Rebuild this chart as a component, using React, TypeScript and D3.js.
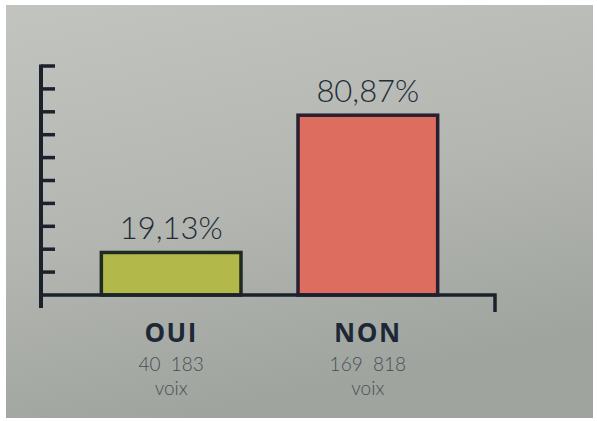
import React, { useEffect, useRef } from 'react'
import * as d3 from 'd3'

const categories = ['OUI', 'NON']
const percents = [19.13, 80.87]
const percentLabels = ['19,13%', '80,87%']
const voteLabels = ['40  183', '169  818']
const unitLabel = 'voix'
const barColors = ['#b3b84a', '#dd6d5f']
const axisMax = 103
const tickCount = 10

export default function App() {
  const ref = useRef<SVGSVGElement | null>(null)

  useEffect(() => {
    if (!ref.current) return
    const svg = d3.select(ref.current)
    svg.selectAll('*').remove()
    const width = 597
    const height = 421

    // photo-like grey background with white border
    const defs = svg.append('defs')
    const grad = defs
      .append('linearGradient')
      .attr('id', 'bg')
      .attr('x1', 0)
      .attr('y1', 0)
      .attr('x2', 0.3)
      .attr('y2', 1)
    grad.append('stop').attr('offset', '0%').attr('stop-color', '#c2c4bf')
    grad.append('stop').attr('offset', '55%').attr('stop-color', '#b3b6b1')
    grad.append('stop').attr('offset', '100%').attr('stop-color', '#a0a49f')

    svg.append('rect').attr('width', width).attr('height', height).attr('fill', '#ffffff')
    svg
      .append('rect')
      .attr('x', 6)
      .attr('y', 5)
      .attr('width', width - 10)
      .attr('height', height - 8)
      .attr('fill', 'url(#bg)')

    const x = d3.scaleBand<string>().domain(categories).range([62, 477]).paddingInner(0.29).paddingOuter(0.2)
    const y = d3.scaleLinear().domain([0, axisMax]).range([295, 66])

    const axisX = 41
    const ink = '#1b222c'

    // bars
    svg
      .selectAll('rect.bar')
      .data(categories)
      .join('rect')
      .attr('class', 'bar')
      .attr('x', (d) => x(d)!)
      .attr('y', (_, i) => y(percents[i]))
      .attr('width', x.bandwidth())
      .attr('height', (_, i) => y(0) - y(percents[i]))
      .attr('fill', (_, i) => barColors[i])
      .attr('stroke', (_, i) => (i === 0 ? '#1f2a22' : '#2a1f30'))
      .attr('stroke-width', 3.5)

    // y axis with unlabelled ticks
    const tickVals = d3.range(1, tickCount + 1).map((i) => (axisMax * i) / tickCount)
    svg
      .selectAll('line.tick')
      .data(tickVals)
      .join('line')
      .attr('class', 'tick')
      .attr('x1', axisX)
      .attr('x2', axisX + 14)
      .attr('y1', (d) => y(d))
      .attr('y2', (d) => y(d))
      .attr('stroke', ink)
      .attr('stroke-width', 3.5)

    svg
      .append('line')
      .attr('x1', axisX)
      .attr('x2', axisX)
      .attr('y1', y(axisMax) - 1.5)
      .attr('y2', y(0) + 13)
      .attr('stroke', ink)
      .attr('stroke-width', 4)

    // baseline with end tick
    svg
      .append('path')
      .attr('d', `M${axisX},${y(0)}H495V312`)
      .attr('fill', 'none')
      .attr('stroke', ink)
      .attr('stroke-width', 3.5)

    // value labels
    svg
      .selectAll('text.pct')
      .data(categories)
      .join('text')
      .attr('class', 'pct')
      .attr('x', (d) => x(d)! + x.bandwidth() / 2)
      .attr('y', (_, i) => y(percents[i]) - 13)
      .attr('text-anchor', 'middle')
      .attr('fill', '#232b36')
      .style('font-family', 'Lato, "Open Sans", sans-serif')
      .style('font-weight', 300)
      .style('font-size', '31px')
      .text((_, i) => percentLabels[i])

    // category labels
    const cx = (d: string) => x(d)! + x.bandwidth() / 2
    svg
      .selectAll('text.cat')
      .data(categories)
      .join('text')
      .attr('class', 'cat')
      .attr('x', cx)
      .attr('y', 342)
      .attr('text-anchor', 'middle')
      .attr('fill', '#1c2835')
      .style('font-family', '"Open Sans", sans-serif')
      .style('font-weight', 700)
      .style('font-size', '26px')
      .style('letter-spacing', '1.5px')
      .text((d) => d)

    svg
      .selectAll('text.votes')
      .data(categories)
      .join('text')
      .attr('class', 'votes')
      .attr('x', cx)
      .attr('y', 371)
      .attr('text-anchor', 'middle')
      .attr('xml:space', 'preserve')
      .attr('fill', '#474d55')
      .style('font-family', 'Lato, "Open Sans", sans-serif')
      .style('font-weight', 300)
      .style('font-size', '19px')
      .style('white-space', 'pre')
      .text((_, i) => voteLabels[i])

    svg
      .selectAll('text.unit')
      .data(categories)
      .join('text')
      .attr('class', 'unit')
      .attr('x', cx)
      .attr('y', 395)
      .attr('text-anchor', 'middle')
      .attr('fill', '#474d55')
      .style('font-family', 'Lato, "Open Sans", sans-serif')
      .style('font-weight', 300)
      .style('font-size', '19px')
      .text(unitLabel)
  }, [])

  return (
    <svg
      ref={ref}
      width={597}
      height={421}
      style={{ position: 'absolute', left: 0, top: 0, display: 'block' }}
      role="img"
      aria-label="Résultats OUI / NON"
    />
  )
}
